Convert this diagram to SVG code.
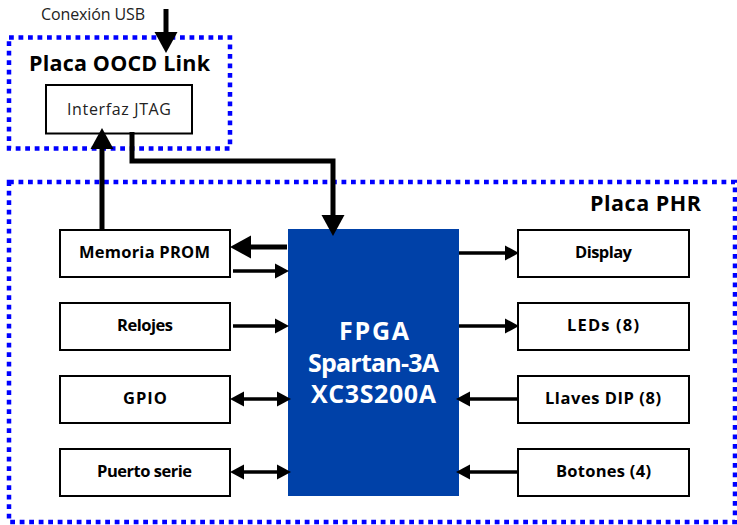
<svg xmlns="http://www.w3.org/2000/svg" width="737" height="525" viewBox="0 0 737 525">
<style>
text{font-family:"Open Sans","DejaVu Sans",sans-serif;fill:#000;text-anchor:middle}
.b{fill:#fff;stroke:#000;stroke-width:2}
.l{font-size:16.500px;font-weight:700}
.r{font-size:16px;font-weight:400;fill:#222}
.d{fill:none;stroke:#00f;stroke-width:4.5;stroke-dasharray:4.8 4.7}
.t{font-size:21.500px;font-weight:700}
.f{font-size:25px;font-weight:700;fill:#fff}
.c{fill:none;stroke:#000;stroke-width:3.300}
.h{fill:none;stroke:#000;stroke-width:5}
</style>
<defs>
<marker id="a" markerUnits="userSpaceOnUse" markerWidth="15" markerHeight="16" refX="1" refY="8" orient="auto-start-reverse"><path d="M0 0.500L14 8L0 15.500Z"/></marker>
<marker id="A" markerUnits="userSpaceOnUse" markerWidth="22" markerHeight="24" refX="1" refY="12" orient="auto"><path d="M0 0.500L21 12L0 23.500Z"/></marker>
</defs>
<g id="placa-oocd"><rect class="d" x="9" y="37.500" width="221" height="111"/><text class="t" x="119.500" y="71" textLength="181">Placa OOCD Link</text></g>
<g id="placa-phr"><rect class="d" x="9" y="182" width="726" height="340"/><text class="t" x="645.500" y="211" textLength="111">Placa PHR</text></g>
<g id="usb"><text class="r" x="93" y="20" textLength="104">Conexión USB</text></g>
<g id="jtag"><rect class="b" x="46" y="85" width="146" height="48.500"/><text class="r" x="119" y="115" textLength="104">Interfaz JTAG</text></g>
<g id="fpga"><rect x="288" y="229" width="171" height="267" fill="#0041a8"/><text class="f" x="374" y="340" textLength="70">FPGA</text><text class="f" x="373.500" y="372" textLength="131">Spartan-3A</text><text class="f" x="373.500" y="403" textLength="125">XC3S200A</text></g>
<g id="prom"><rect class="b" x="60" y="230" width="170" height="47"/><text class="l" x="144.500" y="258" textLength="131">Memoria PROM</text></g>
<g id="relojes"><rect class="b" x="60" y="303" width="170" height="47"/><text class="l" x="145" y="331" textLength="56">Relojes</text></g>
<g id="gpio"><rect class="b" x="60" y="376" width="170" height="47"/><text class="l" x="145" y="404" textLength="44">GPIO</text></g>
<g id="serie"><rect class="b" x="60" y="449" width="170" height="47"/><text class="l" x="144.500" y="477" textLength="95">Puerto serie</text></g>
<g id="display"><rect class="b" x="518" y="230" width="171" height="47"/><text class="l" x="603.500" y="258" textLength="57">Display</text></g>
<g id="leds"><rect class="b" x="518" y="303" width="171" height="47"/><text class="l" x="603" y="331" textLength="72">LEDs (8)</text></g>
<g id="llaves"><rect class="b" x="518" y="376" width="171" height="47"/><text class="l" x="603" y="404" textLength="116">Llaves DIP (8)</text></g>
<g id="botones"><rect class="b" x="518" y="449" width="171" height="47"/><text class="l" x="603.500" y="477" textLength="95">Botones (4)</text></g>
<g id="connectors">
<path class="h" d="M166 9V33" marker-end="url(#A)"/>
<path class="h" d="M102 230V148" marker-end="url(#A)"/>
<path class="h" d="M132 132V161H333V216" marker-end="url(#A)"/>
<path class="h" d="M287 247H250" marker-end="url(#A)"/>
<path class="c" d="M233 271H276" marker-end="url(#a)"/>
<path class="c" d="M233 326H276" marker-end="url(#a)"/>
<path class="c" d="M243 399H278" marker-start="url(#a)" marker-end="url(#a)"/>
<path class="c" d="M243 472H278" marker-start="url(#a)" marker-end="url(#a)"/>
<path class="c" d="M459 253H506" marker-end="url(#a)"/>
<path class="c" d="M459 326H506" marker-end="url(#a)"/>
<path class="c" d="M518 399H469" marker-end="url(#a)"/>
<path class="c" d="M518 472H469" marker-end="url(#a)"/>
</g>
</svg>
